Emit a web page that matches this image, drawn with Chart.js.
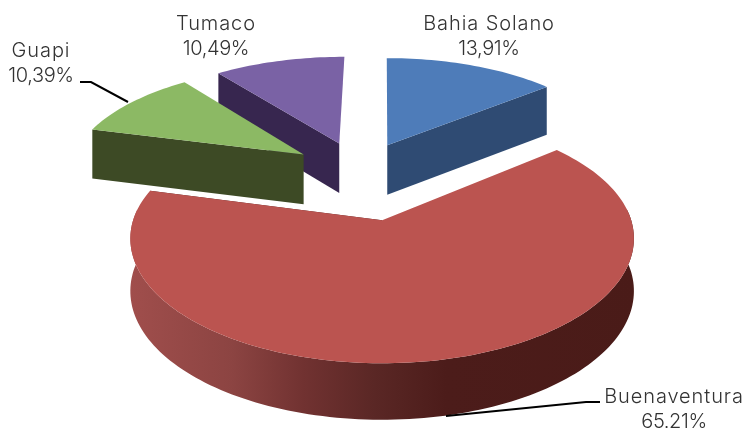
<!DOCTYPE html>
<html>
<head>
<meta charset="utf-8">
<style>
  html, body { margin: 0; padding: 0; background: #fff; }
  canvas { display: block; }
</style>
<script src="https://cdn.jsdelivr.net/npm/chart.js@4/dist/chart.umd.min.js"></script>
</head>
<body>
<canvas id="pie" width="746" height="428"></canvas>
<script>
const categories = ['Bahia Solano', 'Buenaventura', 'Guapi', 'Tumaco'];
const shares = [13.91, 65.21, 10.39, 10.49];
const shareLabels = ['13,91%', '65.21%', '10,39%', '10,49%'];
const explode = [42, 66.5, 44, 43];

const topColors = ['#4e7cb9', '#bb5450', '#8cb964', '#7a62a5'];
const wallColors = ['#2f4b73', '#4c1c1a', '#3d4a25', '#37264f'];
const labelPlaces = [[489, 30], [674, 403], [41, 57], [216, 30]];

// 3D look: the pie is tilted and seen in perspective
const PIE_RADIUS = 249, PIE_HEIGHT = 52, DEPTH = 1700;
const ORIGIN_X = 383, ORIGIN_Y = 220, SHIFT_X = -25, SHIFT_Y = -108;

function project(x, y, z) {
  const w = 1 / (1 - y / DEPTH);
  const k = y < 0 ? 0.48 : 0.49;
  return [ORIGIN_X + x * w, ORIGIN_Y + k * y * w - z * (w + 1) / 2];
}

function tracePath(ctx, pts) {
  ctx.beginPath();
  pts.forEach((p, i) => i ? ctx.lineTo(p[0], p[1]) : ctx.moveTo(p[0], p[1]));
  ctx.closePath();
}

function drawSlice(ctx, arc, i) {
  const scale = PIE_RADIUS / arc.outerRadius;
  const mid = (arc.startAngle + arc.endAngle) / 2;
  const ax = arc.options.offset * Math.cos(mid) * scale + SHIFT_X;
  const ay = arc.options.offset * Math.sin(mid) * scale + SHIFT_Y;

  const rimAngles = [];
  const steps = Math.ceil((arc.endAngle - arc.startAngle) * 40);
  for (let s = 0; s <= steps; s++) {
    rimAngles.push(arc.startAngle + (arc.endAngle - arc.startAngle) * s / steps);
  }
  const rimPoint = (t, z) => project(ax + PIE_RADIUS * Math.cos(t), ay + PIE_RADIUS * Math.sin(t), z);
  const apexAt = (z) => project(ax, ay, z);
  const rimTop = rimAngles.map(t => rimPoint(t, 0));

  // cut face, only the one turned to the viewer
  const near = rimTop[0][1] > rimTop[steps][1] ? 0 : steps;
  ctx.fillStyle = wallColors[i];
  tracePath(ctx, [apexAt(0), rimTop[near], rimPoint(rimAngles[near], -PIE_HEIGHT), apexAt(-PIE_HEIGHT)]);
  ctx.fill();

  // outer wall, front part only, the big slice gets the light falloff
  const front = rimAngles.filter(t => Math.sin(t) > -0.1);
  if (front.length) {
    const g = ctx.createLinearGradient(130, 0, 640, 0);
    g.addColorStop(0, '#a04e4c');
    g.addColorStop(0.2, '#8c4442');
    g.addColorStop(0.34, '#713231');
    g.addColorStop(0.48, '#5a2725');
    g.addColorStop(0.62, '#4c1c1a');
    g.addColorStop(1, '#4a1b18');
    ctx.fillStyle = g;
    tracePath(ctx, front.map(t => rimPoint(t, 0)).concat(front.slice().reverse().map(t => rimPoint(t, -PIE_HEIGHT))));
    ctx.fill();
  }

  ctx.fillStyle = topColors[i];
  tracePath(ctx, [apexAt(0)].concat(rimTop));
  ctx.fill();
}

const pie3d = {
  id: 'pie3d',
  beforeDatasetDraw(chart, args) {
    const ctx = chart.ctx;
    const arcs = chart.getDatasetMeta(args.index).data;
    // far slices first so the near ones paint over them
    const order = [3, 0, 2, 1];
    ctx.save();
    order.forEach(i => drawSlice(ctx, arcs[i], i));

    ctx.strokeStyle = '#000';
    ctx.lineWidth = 2;
    ctx.beginPath();
    ctx.moveTo(80, 82); ctx.lineTo(91, 82); ctx.lineTo(128, 102);
    ctx.moveTo(600, 402); ctx.lineTo(586, 402); ctx.lineTo(446, 416);
    ctx.stroke();

    ctx.fillStyle = '#333';
    ctx.font = '300 20px Inter';
    ctx.textAlign = 'center';
    ctx.textBaseline = 'alphabetic';
    categories.forEach((name, i) => {
      const [x, y] = labelPlaces[i];
      ctx.letterSpacing = '0.9px';
      ctx.fillText(name, x, y);
      ctx.letterSpacing = '-0.4px';
      ctx.fillText(shareLabels[i], x, y + 24.5);
    });
    ctx.restore();
    return false;
  }
};

new Chart(document.getElementById('pie'), {
  type: 'pie',
  data: {
    labels: categories,
    datasets: [{
      data: shares,
      backgroundColor: topColors,
      offset: explode,
      borderWidth: 0
    }]
  },
  options: {
    responsive: false,
    animation: false,
    radius: 149,
    plugins: { legend: { display: false }, tooltip: { enabled: false } }
  },
  plugins: [pie3d]
});
</script>
</body>
</html>
